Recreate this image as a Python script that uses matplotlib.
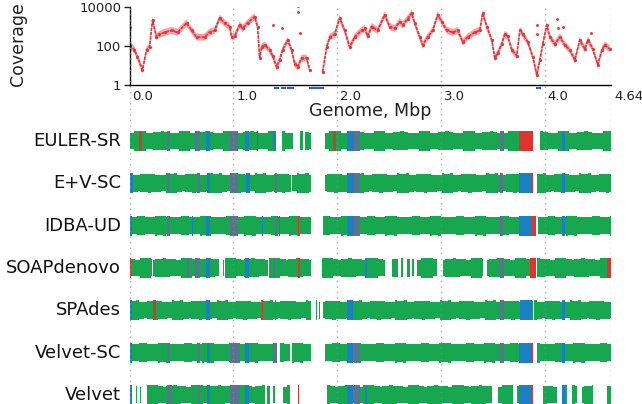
import numpy as np
import matplotlib
matplotlib.use("Agg")
import matplotlib.pyplot as plt
from matplotlib.transforms import blended_transform_factory

# ---------------- data ----------------
GENOME = 4.64
tick_pos = [0, 1, 2, 3, 4, 4.64]
tick_labels = ["0.0", "1.0", "2.0", "3.0", "4.0", "4.64"]

# coverage trace (position in Mbp, log10 coverage); NaN marks the uncovered gap
cov_pos = [0.00, 0.048, 0.077, 0.125, 0.164, 0.193, 0.222, 0.260, 0.289, 0.338,
           0.405, 0.463, 0.550, 0.598, 0.646, 0.723, 0.771, 0.820, 0.868, 0.916,
           0.964, 0.984, 1.013, 1.061, 1.090, 1.138, 1.205, 1.234, 1.254, 1.273,
           1.302, 1.350, 1.379, 1.418, 1.446, 1.475, 1.524, 1.562, 1.591, 1.620,
           1.659, 1.707, 1.736, 1.80, 1.861, 1.900, 1.929, 1.977, 2.025, 2.073,
           2.122, 2.170, 2.237, 2.266, 2.295, 2.333, 2.391, 2.459, 2.507, 2.555,
           2.604, 2.633, 2.681, 2.719, 2.748, 2.797, 2.825, 2.874, 2.922, 2.970,
           3.009, 3.057, 3.115, 3.163, 3.211, 3.259, 3.327, 3.375, 3.404, 3.443,
           3.491, 3.520, 3.549, 3.587, 3.616, 3.645, 3.684, 3.732, 3.761, 3.790,
           3.838, 3.886, 3.925, 3.954, 3.983, 4.021, 4.050, 4.098, 4.147, 4.195,
           4.243, 4.291, 4.339, 4.388, 4.417, 4.465, 4.513, 4.552, 4.581, 4.629]
cov_log10 = [2.05, 1.80, 1.44, 0.77, 1.80, 1.95, 3.33, 2.46, 2.60, 2.70,
             2.80, 2.70, 3.18, 2.80, 2.46, 2.46, 2.70, 2.80, 3.43, 3.18,
             3.00, 2.46, 2.50, 3.08, 2.90, 3.18, 3.50, 3.00, 1.38, 1.95,
             2.05, 1.80, 1.50, 0.92, 1.28, 1.80, 2.30, 1.80, 1.10, 0.92,
             1.38, 1.38, 0.77, np.nan, 0.67, 1.95, 2.46, 2.60, 3.43, 2.80,
             1.95, 2.46, 2.80, 2.90, 2.50, 3.00, 2.80, 3.60, 3.00, 2.90,
             3.25, 3.08, 3.40, 3.68, 3.18, 2.46, 2.05, 2.46, 2.80, 3.60,
             3.25, 2.80, 2.70, 2.80, 2.20, 2.46, 2.70, 2.80, 3.68, 3.00,
             2.30, 1.38, 1.65, 2.10, 2.60, 2.50, 1.80, 1.50, 2.80, 2.60,
             2.20, 1.45, 0.50, 1.28, 2.10, 3.08, 2.46, 2.10, 2.46, 2.05,
             1.80, 1.28, 2.30, 1.85, 2.30, 1.85, 1.03, 1.80, 2.05, 1.85]

# isolated coverage points
out_pos = [0.005, 1.379, 1.466, 1.620, 1.622, 1.640, 3.925, 3.930, 4.120, 4.125, 4.175, 4.450]
out_log10 = [3.00, 3.08, 2.92, 4.05, 3.75, 2.67, 3.10, 2.60, 3.40, 2.90, 3.00, 2.67]

# zero-coverage stretches (drawn just below the axis)
zero_cov = [(1.398, 1.43), (1.466, 1.495), (1.524, 1.572), (1.736, 1.861), (3.925, 3.954)]

assemblers = ["EULER-SR", "E+V-SC", "IDBA-UD", "SOAPdenovo", "SPAdes", "Velvet-SC", "Velvet"]

# uncovered stretches of each assembler (Mbp)
gaps = {
    "EULER-SR": [(1.41, 1.466), (1.572, 1.639), (1.668, 1.688), (1.745, 1.88), (3.89, 3.954)],
    "E+V-SC": [(1.56, 1.566), (1.61, 1.616), (1.745, 1.88), (3.886, 3.925)],
    "IDBA-UD": [(1.745, 1.861), (3.915, 3.934)],
    "SOAPdenovo": [(0.22, 0.225), (0.858, 0.897), (0.91, 0.916), (1.33, 1.345), (1.745, 1.851),
                   (2.459, 2.527), (2.584, 2.62), (2.64, 2.671), (2.70, 2.72), (2.74, 2.768),
                   (2.96, 3.018), (3.404, 3.443), (3.915, 3.925)],
    "SPAdes": [(1.745, 1.795), (1.805, 1.825), (1.835, 1.861), (3.89, 3.895)],
    "Velvet-SC": [(1.418, 1.446), (1.55, 1.565), (1.745, 1.88), (3.886, 3.925)],
    "Velvet": [(0.025, 0.06), (0.07, 0.10), (0.11, 0.164), (1.302, 1.321), (1.35, 1.379),
               (1.398, 1.475), (1.543, 1.90), (3.491, 3.549), (3.693, 3.732), (3.886, 3.983),
               (4.118, 4.166), (4.214, 4.262), (4.311, 4.359), (4.465, 4.60)],
}

# coloured stretches: (start, end, kind)
segments = {
    "EULER-SR": [(0.096, 0.125, "red"), (0.357, 0.386, "slate"), (0.636, 0.675, "slate"),
                 (0.733, 0.771, "blue"), (0.964, 1.041, "slate"), (1.109, 1.148, "blue"),
                 (1.225, 1.235, "red"), (1.379, 1.41, "blue"), (1.958, 1.986, "red"),
                 (2.093, 2.165, "blue"), (2.165, 2.218, "slate"), (3.568, 3.607, "slate"),
                 (3.751, 3.89, "red"), (4.166, 4.195, "blue")],
    "E+V-SC": [(0.0, 0.03, "blue"), (0.357, 0.386, "slate"), (0.646, 0.675, "slate"),
               (0.743, 0.771, "blue"), (0.964, 1.041, "slate"), (1.119, 1.157, "blue"),
               (1.398, 1.418, "slate"), (2.093, 2.16, "blue"), (2.16, 2.218, "slate"),
               (3.568, 3.597, "slate"), (3.751, 3.877, "blue"), (3.877, 3.886, "red"),
               (4.166, 4.195, "blue")],
    "IDBA-UD": [(0.0, 0.02, "blue"), (0.357, 0.386, "slate"), (0.598, 0.608, "blue"),
                (0.733, 0.771, "blue"), (0.964, 1.041, "slate"), (1.273, 1.283, "blue"),
                (1.398, 1.427, "slate"), (1.437, 1.446, "red"), (1.62, 1.635, "red"),
                (2.093, 2.16, "blue"), (2.16, 2.218, "slate"), (3.568, 3.597, "slate"),
                (3.751, 3.877, "blue"), (3.877, 3.915, "red"), (4.166, 4.195, "blue")],
    "SOAPdenovo": [(0.0, 0.012, "red"), (0.55, 0.57, "slate"), (0.636, 0.675, "slate"),
                   (0.733, 0.771, "blue"), (1.109, 1.148, "blue"), (1.379, 1.398, "slate"),
                   (1.62, 1.64, "red"), (2.266, 2.285, "blue"), (3.568, 3.607, "slate"),
                   (3.857, 3.915, "red"), (4.60, 4.64, "red")],
    "SPAdes": [(0.0, 0.025, "blue"), (0.222, 0.26, "red"), (0.733, 0.771, "blue"),
               (1.273, 1.29, "red"), (1.398, 1.408, "slate"), (2.093, 2.15, "blue"),
               (3.568, 3.607, "slate"), (3.761, 3.877, "blue"), (4.166, 4.195, "blue")],
    "Velvet-SC": [(0.0, 0.025, "blue"), (0.357, 0.386, "slate"), (0.646, 0.675, "slate"),
                  (0.743, 0.771, "blue"), (0.964, 1.061, "slate"), (1.109, 1.148, "blue"),
                  (1.379, 1.418, "slate"), (2.093, 2.15, "blue"), (2.16, 2.218, "slate"),
                  (3.568, 3.607, "slate"), (3.751, 3.867, "blue"), (3.867, 3.886, "red"),
                  (4.166, 4.195, "blue")],
    "Velvet": [(0.0, 0.02, "blue"), (0.366, 0.405, "slate"), (0.646, 0.675, "slate"),
               (0.743, 0.771, "blue"), (0.964, 1.061, "slate"), (1.109, 1.148, "blue"),
               (1.628, 1.633, "red"), (2.093, 2.15, "blue"), (2.16, 2.218, "slate"),
               (2.266, 2.285, "blue"), (3.751, 3.877, "blue"), (3.877, 3.886, "red"),
               (4.166, 4.195, "blue")],
}

# ---------------- style ----------------
COLORS = {"green": "#17a84f", "blue": "#1b7fc6", "slate": "#5b7290", "red": "#e2322e"}
COV_RED = "#e8333a"
GRID = "#8a8a8a"
W, H = 642, 404
fig = plt.figure(figsize=(W / 100, H / 100), dpi=100)
L, R = 129.5 / W, 611 / W


def fy(py):
    return 1 - py / H


# background axes for the dotted genome gridlines
ax_bg = fig.add_axes([L, 0, R - L, fy(4)])
ax_bg.set_xlim(0, GENOME)
ax_bg.set_ylim(0, 1)
ax_bg.axis("off")
ax_bg.set_zorder(5)
ax_bg.patch.set_alpha(0)
for p in tick_pos:
    ax_bg.axvline(p, color=GRID, lw=1.0, ls=(0, (1, 3)), alpha=0.7)

# ---- top coverage panel ----
ax = fig.add_axes([L, fy(85), R - L, (85 - 7) / H])
ax.set_xlim(0, GENOME)
ax.set_yscale("log")
ax.set_ylim(1, 10000)
ax.patch.set_alpha(0)
cl = np.array(cov_log10)
ax.fill_between(cov_pos, 10 ** (cl - 0.18), 10 ** (cl + 0.18), color=COV_RED,
                alpha=0.45, linewidth=0)
ax.plot(cov_pos, 10 ** cl, color=COV_RED, lw=1.2, ls=(0, (2, 0.6)))
ax.plot(cov_pos, 10 ** cl, ls="none", marker=".", ms=2.5, color=COV_RED)
ax.plot(out_pos, 10 ** np.array(out_log10), ls="none", marker=".", ms=2.2, color=COV_RED)
for a, b in zero_cov:
    ax.plot([a, b], [10 ** -0.16, 10 ** -0.16], color="#3a5cc0", lw=1.5, clip_on=False)
for s in ["top", "right"]:
    ax.spines[s].set_visible(False)
ax.spines["left"].set_linewidth(1.0)
ax.spines["bottom"].set_linewidth(1.0)
ax.set_yticks([1, 100, 10000])
ax.set_yticklabels(["1", "100", "10000"])
ax.minorticks_off()
ax.tick_params(axis="y", length=4, width=1, labelsize=9.5, pad=2, colors="#222222")
ax.set_xticks([])
tr = blended_transform_factory(ax.transData, ax.transAxes)
for p, lab in zip(tick_pos, tick_labels):
    ax.text(p + 0.03, -0.145, lab, transform=tr, ha="left", va="center",
            fontsize=9.5, color="#222222")

fig.text(18 / W, fy(44), "Coverage", rotation=90, ha="center", va="center",
         fontsize=12.5, color="#222222")
fig.text(370 / W, fy(111), "Genome, Mbp", ha="center", va="center",
         fontsize=12.5, color="#222222")

# ---- bottom assembly panel ----
axb = fig.add_axes([L, 0, R - L, (404 - 120) / H])
axb.set_xlim(0, GENOME)
axb.set_ylim(6.217, -0.496)
axb.axis("off")

BAR_H = 0.473
width_cycle = [0.045, 0.02, 0.06, 0.03, 0.05, 0.025, 0.07, 0.035, 0.04, 0.055]
height_cycle = [1.0, 0.84, 0.95, 0.82, 1.0, 0.88, 0.84, 0.97, 0.82, 0.92]


def covered(gl):
    res, start = [], 0.0
    for a, b in sorted(gl):
        if a > start:
            res.append((start, a))
        start = max(start, b)
    if start < GENOME:
        res.append((start, GENOME))
    return res


for i, name in enumerate(assemblers):
    k = i * 3
    xs, ws, hs = [], [], []
    for a, b in covered(gaps[name]):
        x = a
        while x < b - 1e-9:
            w = min(width_cycle[k % len(width_cycle)], b - x)
            h = BAR_H * height_cycle[(k * 7 + 3) % len(height_cycle)]
            xs.append(x); ws.append(w); hs.append(h)
            x += w
            k += 1
    hs = np.array(hs)
    axb.bar(xs, hs, width=ws, bottom=i - hs / 2, align="edge",
            color=COLORS["green"], linewidth=0)
    for a, b, kind in segments[name]:
        axb.bar([a], [BAR_H], width=[b - a], bottom=i - BAR_H / 2, align="edge",
                color=COLORS[kind], linewidth=0)
    fig.text(121 / W, fy(141 + 42.3 * i), name, ha="right", va="center",
             fontsize=13, color="#111111")

fig.savefig("out.png", dpi=100)
